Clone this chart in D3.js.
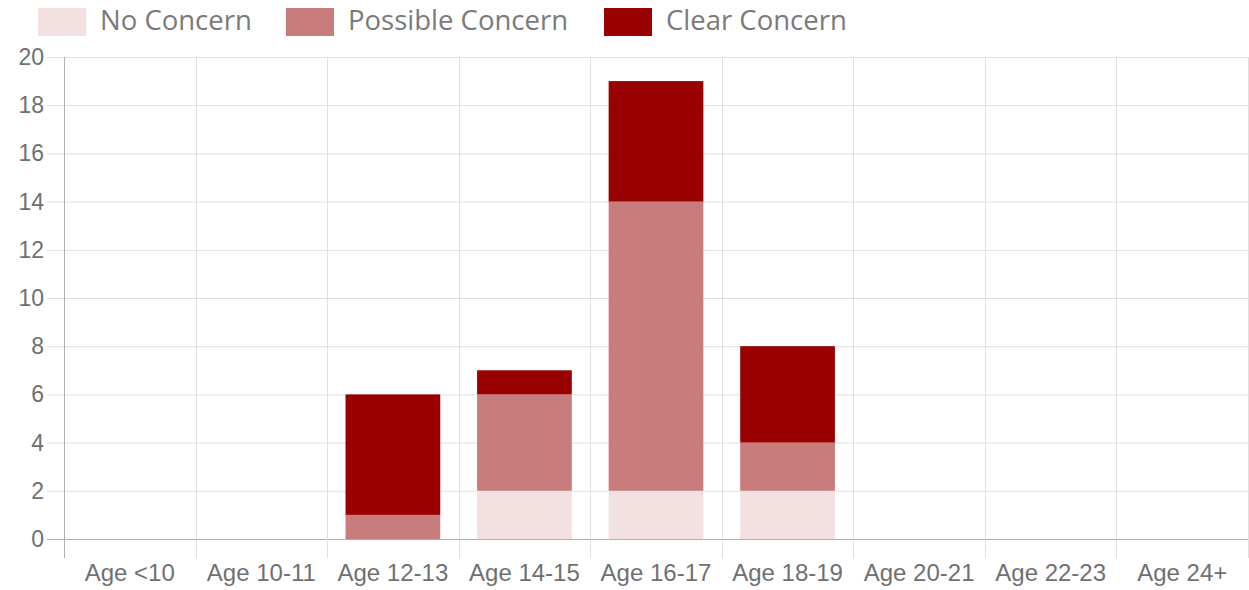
<!DOCTYPE html>
<html><head><meta charset="utf-8">
<script src="https://cdn.jsdelivr.net/npm/d3@7"></script>
<style>
html,body{margin:0;padding:0;background:#fff;}
svg{display:block;}
</style></head>
<body>
<svg id="chart" width="1249" height="590"></svg>
<script>
const categories = ["Age <10","Age 10-11","Age 12-13","Age 14-15","Age 16-17","Age 18-19","Age 20-21","Age 22-23","Age 24+"];
const seriesNames = ["No Concern","Possible Concern","Clear Concern"];
const noConcern = [0,0,0,2,2,2,0,0,0];
const possibleConcern = [0,0,1,4,12,2,0,0,0];
const clearConcern = [0,0,5,1,5,4,0,0,0];
const yTicks = [0,2,4,6,8,10,12,14,16,18,20];
const colors = ["#f3e1e2","#c97c7c","#990000"];

(function(){
const svg = d3.select("#chart");
const pLeft = 64, pRight = 1248, pTop = 57, pBottom = 539;
const x = d3.scaleBand().domain(categories).range([pLeft,pRight]).padding(0);
const y = d3.scaleLinear().domain([0,20]).range([pBottom,pTop]);

const rows = categories.map((c,i)=>({cat:c, "No Concern":noConcern[i], "Possible Concern":possibleConcern[i], "Clear Concern":clearConcern[i]}));
const stacked = d3.stack().keys(seriesNames)(rows);

const g = svg.append("g");
g.selectAll("line.hg").data(yTicks).join("line")
  .attr("x1", pLeft-17).attr("x2", pRight)
  .attr("y1", d=>y(d)+0.5).attr("y2", d=>y(d)+0.5)
  .attr("stroke", d=> d===0 ? "#b0b0b0" : "#e0e0e0").attr("stroke-width",1);
const vx = categories.map((c)=>x(c)).concat([pRight]);
g.selectAll("line.vg").data(vx).join("line")
  .attr("x1", d=>Math.round(d)+0.5).attr("x2", d=>Math.round(d)+0.5)
  .attr("y1", pTop).attr("y2", pBottom+19)
  .attr("stroke", (d,i)=> i===0 ? "#b0b0b0" : "#e0e0e0").attr("stroke-width",1);

const bw = x.bandwidth()*0.72;
svg.append("g").selectAll("g").data(stacked).join("g")
  .attr("fill", (d,i)=>colors[i])
  .selectAll("rect").data(d=>d).join("rect")
  .attr("x", d=>x(d.data.cat) + (x.bandwidth()-bw)/2)
  .attr("width", bw)
  .attr("y", d=>y(d[1]))
  .attr("height", d=>y(d[0])-y(d[1]));

svg.append("g").selectAll("text").data(yTicks).join("text")
  .attr("x", 44).attr("y", d=>y(d)).attr("dy","0.35em")
  .attr("text-anchor","end")
  .attr("font-family","'Liberation Sans', Arial, sans-serif")
  .attr("font-size",23).attr("fill","#707070")
  .text(d=>d);

svg.append("g").selectAll("text").data(categories).join("text")
  .attr("x", d=>x(d)+x.bandwidth()/2).attr("y", 581)
  .attr("text-anchor","middle")
  .attr("font-family","'Liberation Sans', Arial, sans-serif")
  .attr("font-size",24).attr("fill","#707070")
  .text(d=>d);

const legendX = [38,286,604];
const lg = svg.append("g").selectAll("g").data(seriesNames).join("g")
  .attr("transform",(d,i)=>`translate(${legendX[i]},0)`);
lg.append("rect").attr("x",0).attr("y",8).attr("width",48).attr("height",28)
  .attr("fill",(d,i)=>colors[i]);
lg.append("text").attr("x",62).attr("y",30)
  .attr("font-family","'Open Sans', sans-serif")
  .attr("font-size",27.5).attr("fill","#7a7a7a")
  .text(d=>d);
})();
</script>
</body></html>
